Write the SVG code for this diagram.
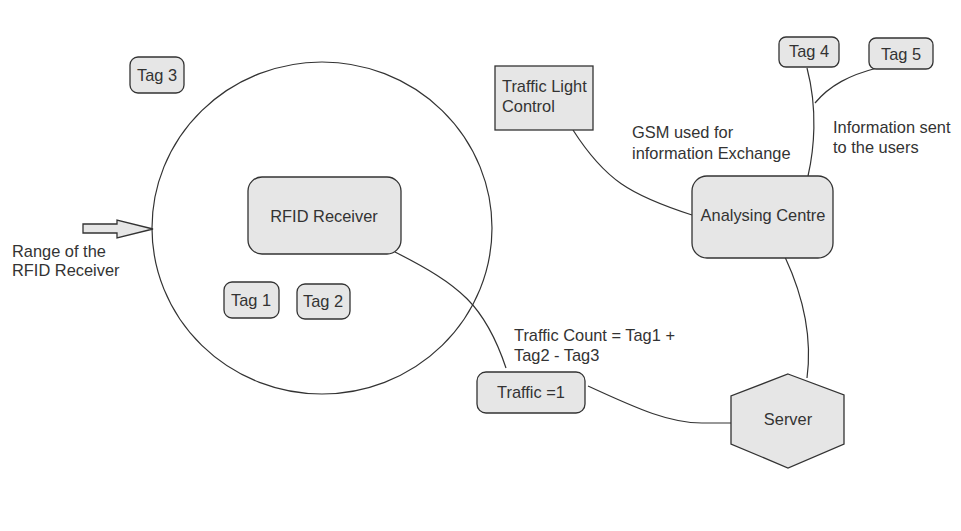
<svg xmlns="http://www.w3.org/2000/svg" width="961" height="531" viewBox="0 0 961 531">
<style>
.n{fill:#e6e6e6;stroke:#333;stroke-width:1.3}
.c{fill:none;stroke:#333;stroke-width:1.2}
text{font-family:"Liberation Sans",Arial,sans-serif;font-size:16.4px;fill:#333}
.m{text-anchor:middle}
</style>
<rect width="961" height="531" fill="#fff"/>
<g id="range">
<ellipse cx="322" cy="228" rx="170" ry="166" fill="none" stroke="#333" stroke-width="1.2"/>
</g>
<g id="range-arrow">
<polygon points="83,224 117,224 117,220 153,229 117,238 117,233 83,233" class="n"/>
<text x="12" y="257">Range of the</text>
<text x="12" y="276">RFID Receiver</text>
</g>
<g id="connectors">
<path class="c" d="M573,130 C605,180 630,195 692,215"/>
<path class="c" d="M807,68 C818,110 814,150 808,176"/>
<path class="c" d="M877,68 C850,75 830,85 815,103"/>
<path class="c" d="M395,252 C460,285 485,305 506,368"/>
<path class="c" d="M588,386 C640,410 670,423 702,423 L731,423"/>
<path class="c" d="M785,257 C805,300 812,340 807,378"/>
</g>
<g id="tag3"><rect class="n" x="130" y="57" width="54" height="36" rx="8"/><text class="m" x="157" y="81">Tag 3</text></g>
<g id="rfid"><rect class="n" x="248" y="177" width="153" height="77" rx="14"/><text class="m" x="324" y="222">RFID Receiver</text></g>
<g id="tag1"><rect class="n" x="224" y="282" width="55" height="36" rx="8"/><text class="m" x="251" y="306">Tag 1</text></g>
<g id="tag2"><rect class="n" x="297" y="284" width="53" height="35" rx="8"/><text class="m" x="323" y="307">Tag 2</text></g>
<g id="traffic-light"><rect class="n" x="495" y="66" width="98" height="64"/><text x="502" y="92">Traffic Light</text><text x="502" y="112">Control</text></g>
<g id="tag4"><rect class="n" x="779" y="37" width="60" height="30" rx="7"/><text class="m" x="809" y="57">Tag 4</text></g>
<g id="tag5"><rect class="n" x="869" y="38" width="64" height="31" rx="7"/><text class="m" x="901" y="60">Tag 5</text></g>
<g id="analysing"><rect class="n" x="692" y="176" width="141" height="82" rx="15"/><text class="m" x="763" y="221">Analysing Centre</text></g>
<g id="traffic1"><rect class="n" x="477" y="372" width="108" height="41" rx="9"/><text class="m" x="531" y="398">Traffic =1</text></g>
<g id="server"><polygon class="n" points="788,374 844,395 844,444 788,468 731,444 731,396"/><text class="m" x="788" y="425">Server</text></g>
<g id="labels">
<text x="632" y="138">GSM used for</text>
<text x="632" y="159">information Exchange</text>
<text x="833" y="133">Information sent</text>
<text x="833" y="153">to the users</text>
<text x="514" y="341">Traffic Count = Tag1 +</text>
<text x="514" y="361">Tag2 - Tag3</text>
</g>
</svg>
